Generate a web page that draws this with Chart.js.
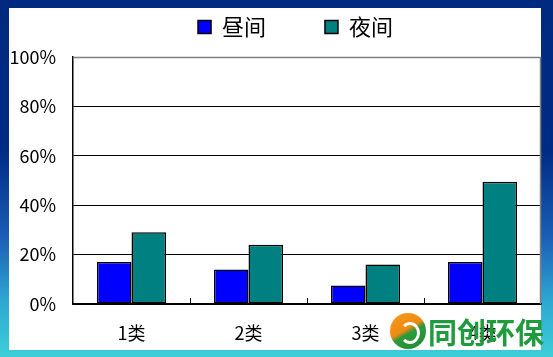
<!DOCTYPE html>
<html><head><meta charset="utf-8">
<script src="https://cdn.jsdelivr.net/npm/chart.js@4/dist/chart.umd.min.js"></script>
<style>
html,body{margin:0;padding:0;width:553px;height:357px;overflow:hidden;}
body{position:relative;background:linear-gradient(to bottom,#002a80 0%,#002b84 42%,#1a5db4 66%,#2ea6d2 84%,#3ccfd8 100%);}
#panel{position:absolute;left:9px;top:8px;width:532px;height:342px;background:#fff;}
#c{position:absolute;left:0;top:0;}
#wm{position:absolute;left:390px;top:312px;height:40px;width:160px;}
#logo{position:absolute;left:0;top:1px;width:36px;height:36px;border-radius:50%;background:linear-gradient(150deg,#f39a1e 0%,#f08a10 45%,#2d9a3a 55%,#1f8a30 100%);}
#logo:after{content:"";position:absolute;left:10px;top:9px;width:14px;height:16px;border:3px solid #fff;border-radius:50%;border-left-color:transparent;}
#wmt{position:absolute;left:38px;top:1px;font:bold 29px "Noto Sans CJK SC",sans-serif;color:#1f9a3c;line-height:36px;white-space:nowrap;}
</style></head><body>
<div id="panel"></div>
<canvas id="c" width="553" height="357"></canvas>
<div id="wm"><div id="logo"></div><div id="wmt">同创环保</div></div>
<script>
const categories = ['1类', '2类', '3类', '4类'];
const seriesNames = ['昼间', '夜间'];
const dayValues = [17, 14, 7.5, 17];
const nightValues = [29, 24, 16, 49.5];
const yTickValues = [0, 20, 40, 60, 80, 100];
const legendGap = '\u3000\u3000 ';

const FONT = '"Noto Sans CJK SC", sans-serif';

const framePlugin = {
  id: 'frame',
  beforeInit(chart) {
    const orig = chart.legend.fit;
    chart.legend.fit = function () {
      orig.call(chart.legend);
      this.height += 9;
    };
  },
  afterLayout(chart) {
    chart.legend.left = 50;
  },
  afterDraw(chart) {
    const {ctx, chartArea: a, scales: {x}} = chart;
    ctx.save();
    ctx.strokeStyle = '#808080';
    ctx.lineWidth = 1.5;
    ctx.beginPath();
    ctx.moveTo(a.left, a.top + 0.5);
    ctx.lineTo(a.right - 0.5, a.top + 0.5);
    ctx.lineTo(a.right - 0.5, a.bottom);
    ctx.stroke();
    ctx.strokeStyle = '#000';
    ctx.lineWidth = 1;
    ctx.beginPath();
    for (let i = 1; i < categories.length; i++) {
      const px = Math.round((x.getPixelForValue(i - 1) + x.getPixelForValue(i)) / 2) + 0.5;
      ctx.moveTo(px, a.bottom);
      ctx.lineTo(px, a.bottom - 6);
    }
    ctx.stroke();
    ctx.restore();
  }
};

new Chart(document.getElementById('c'), {
  type: 'bar',
  data: {
    labels: categories,
    datasets: [
      {label: seriesNames[0], data: dayValues, backgroundColor: '#0000ff', borderColor: '#000', borderWidth: 1.5, borderSkipped: false},
      {label: seriesNames[1], data: nightValues, backgroundColor: '#008080', borderColor: '#000', borderWidth: 1.5, borderSkipped: false}
    ]
  },
  options: {
    responsive: false,
    animation: false,
    devicePixelRatio: 1,
    layout: {padding: {left: 9, right: 12, top: 6, bottom: 0}},
    datasets: {bar: {categoryPercentage: 0.59, barPercentage: 1.0}},
    plugins: {
      tooltip: {enabled: false},
      legend: {
        position: 'top',
        align: 'center',
        labels: {
          boxWidth: 13,
          boxHeight: 13,
          padding: 10,
          color: '#000',
          font: {family: FONT, size: 22},
          generateLabels(chart) {
            const items = Chart.defaults.plugins.legend.labels.generateLabels(chart);
            items[0].text = items[0].text + legendGap;
            items.forEach(it => { it.lineWidth = 1.5; it.strokeStyle = '#000'; });
            return items;
          }
        }
      }
    },
    scales: {
      x: {
        grid: {display: true, drawOnChartArea: false, drawTicks: false},
        border: {color: '#000', width: 1.5},
        ticks: {color: '#000', font: {family: FONT, size: 18}, padding: 18},
        afterFit(s) { s.height = 53; }
      },
      y: {
        min: 0,
        max: 100,
        afterBuildTicks(s) { s.ticks = yTickValues.map(v => ({value: v})); },
        grid: {
          drawTicks: false,
          color: c => (c.tick && c.tick.value === 100) ? 'rgba(0,0,0,0)' : '#000',
          lineWidth: 1
        },
        border: {color: '#000', width: 1.5},
        ticks: {color: '#000', font: {family: FONT, size: 18}, padding: 17, callback: v => v + '%'},
        afterFit(s) { s.width = 64; }
      }
    }
  },
  plugins: [framePlugin]
});
</script>
</body></html>
